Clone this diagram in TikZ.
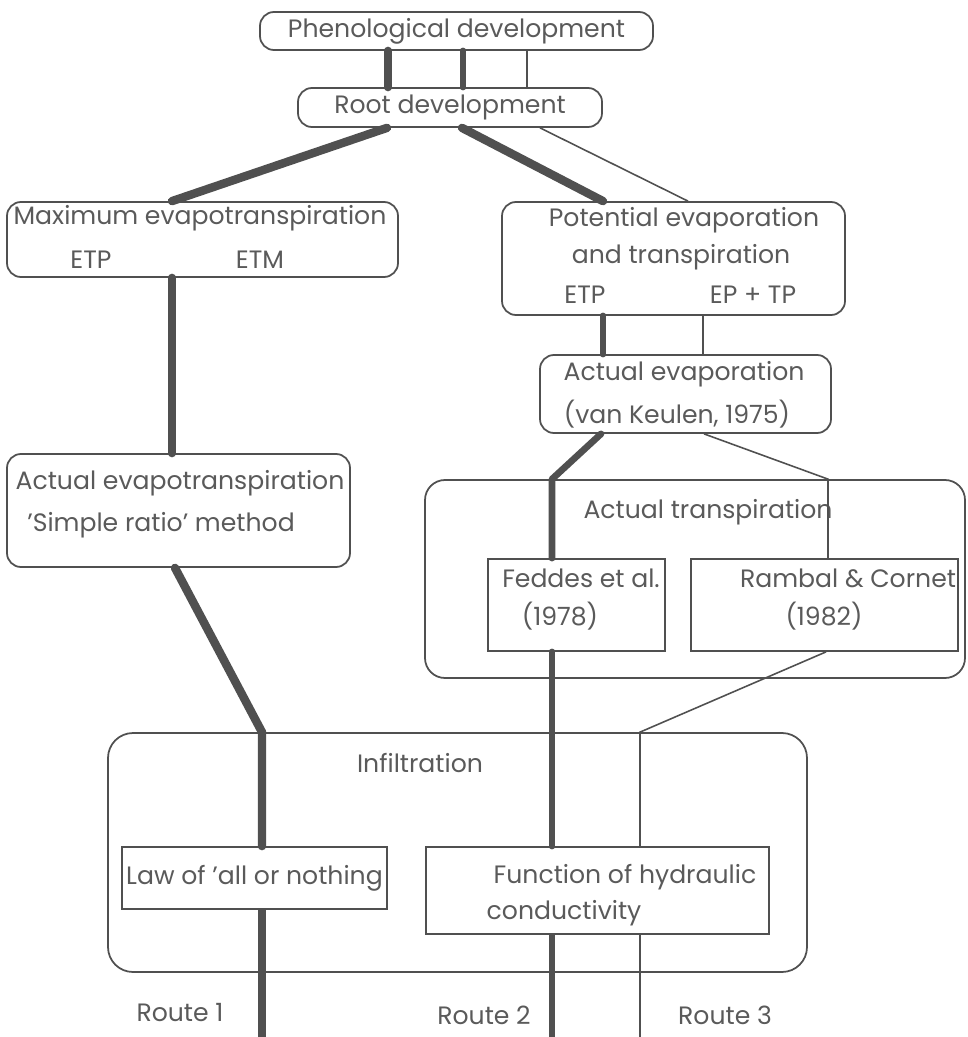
\documentclass[tikz,border=0pt]{standalone}
\usepackage{fontspec}
\setmainfont{Poppins}
\usepackage{tikz}
\definecolor{ink}{HTML}{505050}
\definecolor{inktext}{HTML}{5a5a5a}

\begin{document}
\begin{tikzpicture}[x=0.02cm,y=-0.02cm,
    every node/.style={text=inktext,font=\fontsize{14.3}{17}\selectfont,inner sep=0pt},
    rbox/.style 2 args={draw=ink,line width=1pt,rounded corners=0.28cm,minimum width=#1*0.02cm,minimum height=#2*0.02cm},
    sbox/.style 2 args={draw=ink,line width=1pt,minimum width=#1*0.02cm,minimum height=#2*0.02cm},
    heavy/.style={draw=ink,line width=4.8pt,line cap=round,line join=round},
    semi/.style={draw=ink,line width=3.8pt,line cap=round,line join=round},
    slim/.style={draw=ink,line width=0.9pt}]
    \useasboundingbox (0,0) rectangle (967,1037);
    % boxes
    \node[rbox={393}{38}] (phen) at (456.5,31) {Phenological development};
    \node[rbox={304}{39}] (root) at (450,107.5) {Root development};
    \node[rbox={391}{75}] (max) at (202.5,239.5) {};
    \node[rbox={343}{113}] (pot) at (673.5,258.5) {};
    \node[rbox={291}{78}] (aev) at (685.5,394) {};
    \node[rbox={343}{113}] (aet) at (178.5,510.5) {};
    \node[rbox={540}{198},rounded corners=0.4cm] (atr) at (695,579) {};
    \node[sbox={177}{92}] (fed) at (576.5,605) {};
    \node[sbox={267}{92}] (ram) at (824.5,605) {};
    \node[rbox={699}{239},rounded corners=0.5cm] (infil) at (457.5,852.5) {};
    \node[sbox={265}{62}] (law) at (254.5,878) {Law of {\char"27}all or nothing};
    \node[sbox={343}{87}] (func) at (597.5,890.5) {};
    % texts
    \node (tmax) at (200,218) {Maximum evapotranspiration};
    \node (tmaxa) at (91,260) {ETP};
    \node (tmaxb) at (260,260) {ETM};
    \node (tpot) at (684,220) {Potential evaporation};
    \node (tpotc) at (681,257) {and transpiration};
    \node (tpota) at (585,295) {ETP};
    \node (tpotb) at (753,295) {EP + TP};
    \node (taev) at (684,374) {Actual evaporation};
    \node (taevb) at (677,414) {(van Keulen, 1975)};
    \node (taet) at (180,483) {Actual evapotranspiration};
    \node (taetb) at (161,525) {{\char"27}Simple ratio{\char"27} method};
    \node (tatr) at (708,512) {Actual transpiration};
    \node (tfed) at (581,578) {Feddes et al.};
    \node (tfedb) at (560,616) {(1978)};
    \node (tram) at (848,578) {Rambal \& Cornet};
    \node (tramb) at (824,616) {(1982)};
    \node (tinfil) at (420,763) {Infiltration};
    \node (tfunc) at (625,877) {Function of hydraulic};
    \node (tfuncb) at (564,913) {conductivity};
    \node (route1) at (180,1013) {Route 1};
    \node (route2) at (484,1015) {Route 2};
    \node (route3) at (725,1015) {Route 3};
    \coordinate (end1) at (262,1040);
    \coordinate (end2) at (552,1040);
    \coordinate (end3) at (640,1040);
    % connectors
    \draw[heavy] (388,0 |- phen.south) -- (388,0 |- root.north);
    \draw[semi] (463,0 |- phen.south) -- (463,0 |- root.north);
    \draw[slim] (527,0 |- phen.south) -- (527,0 |- root.north);
    \draw[heavy] (387,0 |- root.south) -- (172,0 |- max.north);
    \draw[heavy] (462,0 |- root.south) -- (603,0 |- pot.north);
    \draw[slim] (540,0 |- root.south) -- (688,0 |- pot.north);
    \draw[heavy] (172,0 |- max.south) -- (172,0 |- aet.north);
    \draw[semi] (603,0 |- pot.south) -- (603,0 |- aev.north);
    \draw[slim] (703,0 |- pot.south) -- (703,0 |- aev.north);
    \draw[heavy] (175,0 |- aet.south) -- (262,0 |- infil.north) -- (262,0 |- law.north);
    \draw[semi] (601,0 |- aev.south) -- (552,0 |- atr.north) -- (552,0 |- fed.north);
    \draw[slim] (704,0 |- aev.south) -- (828,0 |- atr.north) -- (828,0 |- ram.north);
    \draw[semi] (552,0 |- fed.south) -- (552,0 |- func.north);
    \draw[slim] (826,0 |- ram.south) -- (640,0 |- infil.north) -- (640,0 |- func.north);
    \draw[heavy,line cap=butt] (262,0 |- law.south) -- (end1);
    \draw[semi,line cap=butt] (552,0 |- func.south) -- (end2);
    \draw[slim] (640,0 |- func.south) -- (end3);
\end{tikzpicture}
\end{document}
